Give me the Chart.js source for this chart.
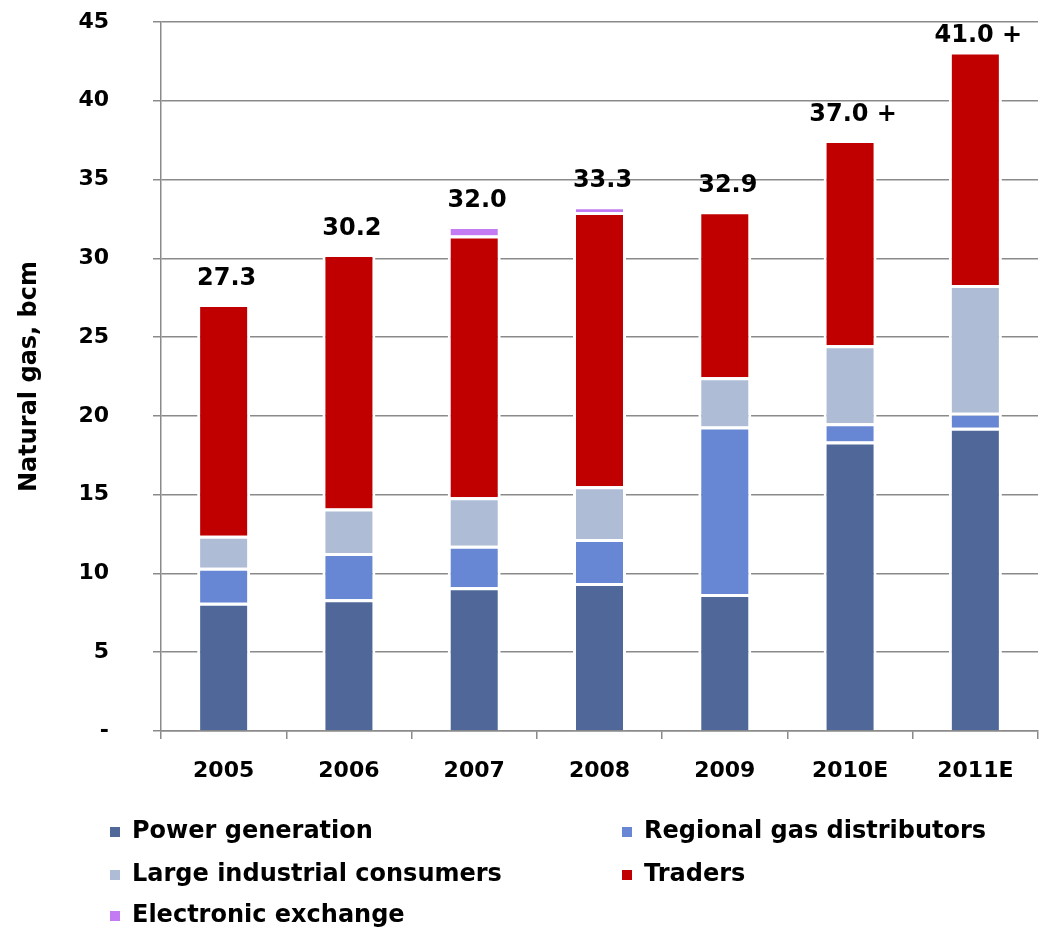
<!DOCTYPE html>
<html>
<head>
<meta charset="utf-8">
<script src="https://cdn.jsdelivr.net/npm/chart.js@4.4.0/dist/chart.umd.min.js"></script>
<style>
  html, body { margin: 0; padding: 0; background: #ffffff; }
  #wrap { width: 1040px; height: 932px; position: relative; }
</style>
</head>
<body>
<div id="wrap"><canvas id="c" width="1040" height="932"></canvas></div>
<script>
const categories = ["2005", "2006", "2007", "2008", "2009", "2010E", "2011E"];
const powerGeneration = [8.14, 8.37, 9.12, 9.39, 8.69, 18.37, 19.24];
const regionalGasDistributors = [2.22, 2.92, 2.64, 2.8, 10.64, 1.16, 0.96];
const largeIndustrialConsumers = [2.04, 2.83, 3.08, 3.35, 3.12, 4.96, 8.11];
const traders = [14.7, 16.16, 16.61, 17.4, 10.54, 13.02, 14.82];
const electronicExchange = [0, 0, 0.6, 0.36, 0, 0, 0];
const totalLabels = ["27.3", "30.2", "32.0", "33.3", "32.9", "37.0 +", "41.0 +"];
const yTicks = [0, 5, 10, 15, 20, 25, 30, 35, 40, 45];

const FONT = "'DejaVu Sans', 'Liberation Sans', sans-serif";
const gridColor = "#8a8a8a";

const totalsPlugin = {
  id: "totals",
  afterDatasetsDraw(chart) {
    const ctx = chart.ctx;
    ctx.save();
    ctx.font = "bold 24px " + FONT;
    ctx.fillStyle = "#000";
    ctx.textAlign = "center";
    ctx.textBaseline = "alphabetic";
    categories.forEach((c, i) => {
      let top = Infinity, x = 0;
      chart.data.datasets.forEach((ds, di) => {
        const el = chart.getDatasetMeta(di).data[i];
        if (el && ds.data[i] > 0) { top = Math.min(top, el.y); x = el.x; }
      });
      const y = Math.max(top - 19, 42);
      ctx.fillText(totalLabels[i], x + 3, y);
    });
    ctx.restore();
  }
};

const legendPlugin = {
  id: "gridLegend",
  afterDraw(chart) {
    const ctx = chart.ctx;
    const cols = [110, 622];
    const rows = [832, 875, 916];
    ctx.save();
    ctx.font = "bold 24px " + FONT;
    ctx.textBaseline = "middle";
    ctx.textAlign = "left";
    chart.data.datasets.forEach((ds, i) => {
      const col = cols[i % 2];
      const row = rows[Math.floor(i / 2)];
      ctx.fillStyle = ds.backgroundColor;
      ctx.fillRect(col, row - 5, 10, 10);
      ctx.fillStyle = "#000";
      ctx.fillText(ds.label, col + 22, row);
    });
    ctx.restore();
  }
};

new Chart(document.getElementById("c"), {
  type: "bar",
  data: {
    labels: categories,
    datasets: [
      { label: "Power generation", data: powerGeneration, backgroundColor: "#4F6899" },
      { label: "Regional gas distributors", data: regionalGasDistributors, backgroundColor: "#6787D4" },
      { label: "Large industrial consumers", data: largeIndustrialConsumers, backgroundColor: "#AEBCD6" },
      { label: "Traders", data: traders, backgroundColor: "#C00000" },
      { label: "Electronic exchange", data: electronicExchange, backgroundColor: "#C27BF2" }
    ].map(d => Object.assign(d, {
      borderColor: "#ffffff",
      borderWidth: 3,
      borderSkipped: "start",
      barPercentage: 0.423,
      categoryPercentage: 1.0
    }))
  },
  options: {
    responsive: false,
    animation: false,
    devicePixelRatio: 1,
    layout: { padding: { top: 22, left: 0, right: 2, bottom: 141 } },
    plugins: {
      legend: { display: false },
      tooltip: { enabled: false }
    },
    scales: {
      x: {
        stacked: true,
        grid: { display: true, drawOnChartArea: false, drawTicks: true, tickLength: 8, color: gridColor, lineWidth: 1.5, offset: true },
        border: { display: true, color: gridColor, width: 1.5 },
        ticks: { color: "#000", font: { family: FONT, size: 22, weight: "bold" }, padding: 19, maxRotation: 0 },
        afterFit(scale) { scale.height = 60; }
      },
      y: {
        stacked: true,
        min: 0,
        max: 45,
        afterBuildTicks(scale) { scale.ticks = yTicks.map(v => ({ value: v })); },
        grid: { color: gridColor, lineWidth: 1.5, tickLength: 8, drawTicks: true },
        border: { display: true, color: gridColor, width: 1.5 },
        ticks: {
          color: "#000",
          font: { family: FONT, size: 22, weight: "bold" },
          padding: 44,
          callback: v => (v === 0 ? "-" : String(v))
        },
        title: {
          display: true,
          text: "Natural gas, bcm",
          color: "#000",
          font: { family: FONT, size: 24, weight: "bold" },
          padding: { top: 15, bottom: 0 }
        },
        afterFit(scale) {
          scale.width = 161;
          scale.paddingTop = 12;
          scale.paddingBottom = 12;
        }
      }
    }
  },
  plugins: [totalsPlugin, legendPlugin]
});
</script>
</body>
</html>
